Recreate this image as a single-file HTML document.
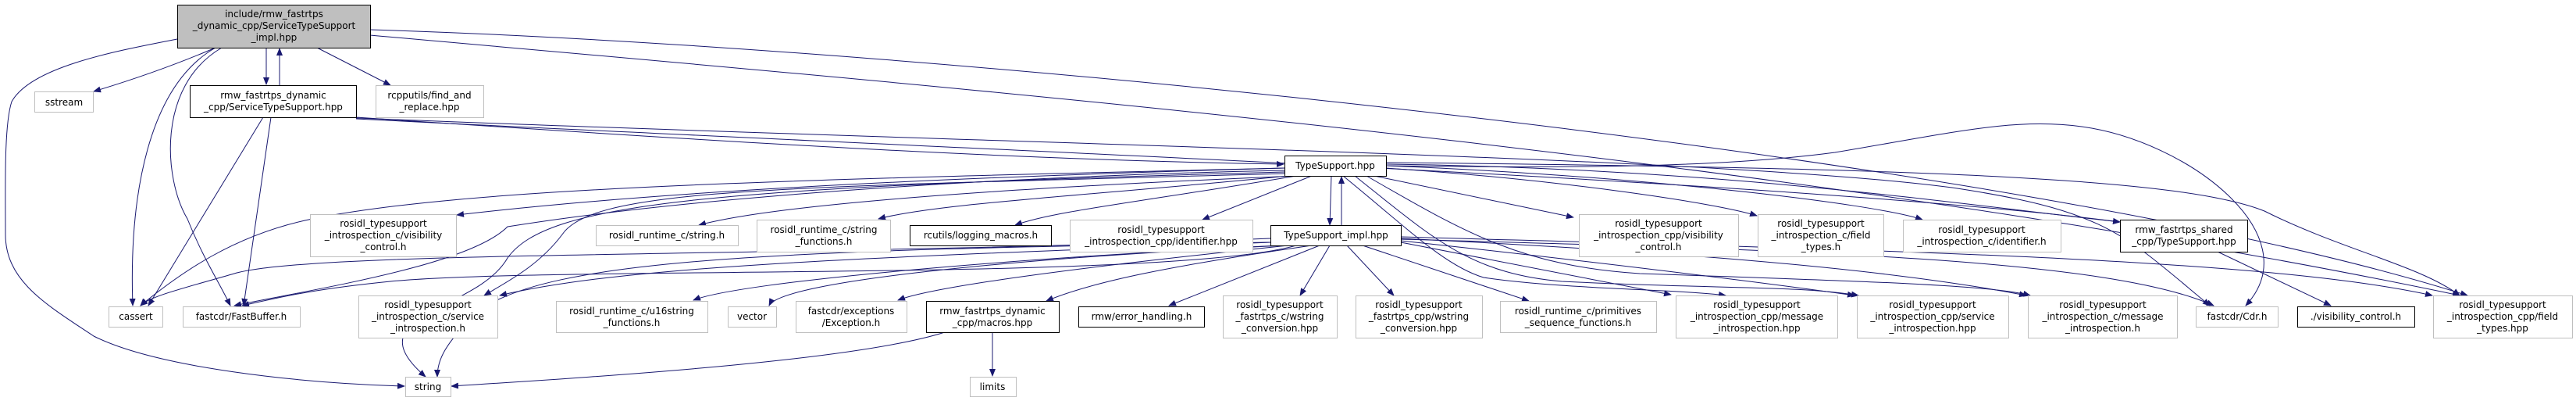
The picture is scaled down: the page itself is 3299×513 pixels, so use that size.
<!DOCTYPE html>
<html><head><meta charset="utf-8"><style>
html,body{margin:0;padding:0;background:#fff;width:3299px;height:513px;overflow:hidden}
svg text{font-family:"DejaVu Sans","Liberation Sans",sans-serif;font-size:12px;fill:#000}
</style></head><body>
<svg width="3299" height="513" viewBox="0 0 3299 513" xmlns="http://www.w3.org/2000/svg">
<defs><marker id="a" markerWidth="10" markerHeight="8" refX="9" refY="4" orient="auto" markerUnits="userSpaceOnUse"><path d="M0,0L10,4L0,8z" fill="#191970"/></marker></defs>
<g fill="none" stroke="#191970" stroke-width="1" marker-end="url(#a)">
<path d="M276,61 C220,85 160,105 120,117"/>
<path d="M276,61 C190,110 165,250 170,391"/>
<path d="M284,61 C200,110 210,230 240,280 C260,330 280,360 295,391"/>
<path d="M227,50 C150,65 40,85 15,130 C5,160 7,240 7,300 C7,360 60,390 120,430 C200,470 380,490 518,494"/>
<path d="M341,61 L341,108"/>
<path d="M358,109 L358,62"/>
<path d="M406,61 L500,109"/>
<path d="M474,38 C1200,60 2600,200 3160,378"/>
<path d="M474,45 C1200,110 2300,200 3150,378"/>
<path d="M337,150 L190,391"/>
<path d="M347,150 L312,391"/>
<path d="M456,150 C900,180 1300,205 1644,210"/>
<path d="M456,152 C1200,190 2300,230 2715,284"/>
<path d="M456,151 C1300,185 2200,200 2500,240 C2700,270 2720,300 2830,391"/>
<path d="M1775,212 C2000,215 2200,215 2350,195 C2500,170 2580,150 2666,162 C2800,180 2960,300 2876,391"/>
<path d="M1645,215 C1000,230 600,240 400,280 C300,300 230,350 180,391"/>
<path d="M1645,218 C1300,225 900,250 650,290 C600,340 400,370 300,391"/>
<path d="M1645,220 C900,240 700,260 650,330 C610,400 450,400 545,482"/>
<path d="M1645,215 C1100,230 800,250 585,275"/>
<path d="M1660,225 C1300,240 1000,260 895,288"/>
<path d="M1650,225 C1400,250 1200,260 1125,280"/>
<path d="M1660,225 C1450,260 1350,270 1300,288"/>
<path d="M1680,225 L1540,281"/>
<path d="M1705,225 L1703,288"/>
<path d="M1718,288 L1718,226"/>
<path d="M1760,225 L2015,278"/>
<path d="M1775,215 C2000,230 2200,260 2250,276"/>
<path d="M1775,212 C2100,225 2400,260 2462,281"/>
<path d="M1775,210 C2200,215 2500,260 2715,284"/>
<path d="M1775,208 C2500,215 2800,230 2900,270 C3000,320 3100,340 3150,378"/>
<path d="M1645,222 C1000,240 760,240 720,300 C690,340 650,360 620,378"/>
<path d="M1720,225 C1800,290 1850,340 1900,355 C2000,370 2150,370 2210,378"/>
<path d="M1735,225 C1830,300 1880,350 2000,360 C2200,370 2300,365 2380,378"/>
<path d="M1750,225 C1880,300 1950,340 2100,350 C2400,360 2550,365 2600,378"/>
<path d="M1627,305 C1000,330 400,320 300,350 C230,370 190,380 180,391"/>
<path d="M1660,314 C1500,360 700,340 500,360 C400,370 360,380 310,391"/>
<path d="M1627,310 C1000,320 700,330 610,400 C570,440 560,460 560,482"/>
<path d="M1210,425 C1100,460 800,480 578,494"/>
<path d="M1627,310 C1100,330 800,340 640,378"/>
<path d="M1640,314 C1300,330 950,360 888,384"/>
<path d="M1645,314 C1300,330 1000,360 985,391"/>
<path d="M1650,314 C1400,340 1200,365 1150,384"/>
<path d="M1680,314 C1500,340 1400,360 1340,385"/>
<path d="M1690,314 L1497,391"/>
<path d="M1703,314 L1665,378"/>
<path d="M1725,314 L1785,378"/>
<path d="M1745,314 L1958,385"/>
<path d="M1794,310 C1950,340 2050,360 2140,377"/>
<path d="M1794,308 C2000,330 2250,360 2375,378"/>
<path d="M1794,305 C2100,320 2400,340 2595,378"/>
<path d="M1794,306 C2300,320 2700,330 2835,391"/>
<path d="M1794,303 C2400,320 2900,330 3115,378"/>
<path d="M1271,425 L1271,481"/>
<path d="M2840,322 L2985,391"/>
</g>
<g stroke-width="1" fill="#fff">
<rect x="227.5" y="6.5" width="247" height="55" fill="#bfbfbf" stroke="#000"/>
<rect x="44.5" y="117.5" width="75" height="26" stroke="#bfbfbf"/>
<rect x="243.5" y="109.5" width="213" height="41" stroke="#000"/>
<rect x="481.5" y="109.5" width="138" height="41" stroke="#bfbfbf"/>
<rect x="1645.5" y="199.5" width="130" height="26" stroke="#000"/>
<rect x="397.5" y="274.5" width="187" height="54" stroke="#bfbfbf"/>
<rect x="763.5" y="288.5" width="182" height="26" stroke="#bfbfbf"/>
<rect x="969.5" y="281.5" width="171" height="41" stroke="#bfbfbf"/>
<rect x="1165.5" y="288.5" width="181" height="26" stroke="#000"/>
<rect x="1370.5" y="281.5" width="234" height="41" stroke="#bfbfbf"/>
<rect x="1627.5" y="288.5" width="167" height="26" stroke="#000"/>
<rect x="2022.5" y="274.5" width="204" height="54" stroke="#bfbfbf"/>
<rect x="2251.5" y="274.5" width="161" height="54" stroke="#bfbfbf"/>
<rect x="2437.5" y="281.5" width="202" height="41" stroke="#bfbfbf"/>
<rect x="2715.5" y="281.5" width="163" height="41" stroke="#000"/>
<rect x="139.5" y="392.5" width="69" height="26" stroke="#bfbfbf"/>
<rect x="234.5" y="392.5" width="150" height="26" stroke="#bfbfbf"/>
<rect x="459.5" y="378.5" width="178" height="54" stroke="#bfbfbf"/>
<rect x="712.5" y="385.5" width="194" height="40" stroke="#bfbfbf"/>
<rect x="932.5" y="392.5" width="62" height="26" stroke="#bfbfbf"/>
<rect x="1019.5" y="385.5" width="142" height="40" stroke="#bfbfbf"/>
<rect x="1186.5" y="385.5" width="170" height="40" stroke="#000"/>
<rect x="1381.5" y="392.5" width="161" height="26" stroke="#000"/>
<rect x="1566.5" y="378.5" width="146" height="54" stroke="#bfbfbf"/>
<rect x="1736.5" y="378.5" width="162" height="54" stroke="#bfbfbf"/>
<rect x="1921.5" y="385.5" width="200" height="40" stroke="#bfbfbf"/>
<rect x="2146.5" y="378.5" width="207" height="54" stroke="#bfbfbf"/>
<rect x="2378.5" y="378.5" width="194" height="54" stroke="#bfbfbf"/>
<rect x="2597.5" y="378.5" width="191" height="54" stroke="#bfbfbf"/>
<rect x="2812.5" y="392.5" width="105" height="26" stroke="#bfbfbf"/>
<rect x="2942.5" y="392.5" width="150" height="26" stroke="#000"/>
<rect x="3116.5" y="378.5" width="178" height="54" stroke="#bfbfbf"/>
<rect x="519.5" y="482.5" width="58" height="25" stroke="#bfbfbf"/>
<rect x="1242.5" y="482.5" width="59" height="25" stroke="#bfbfbf"/>
</g>
<g text-anchor="middle">
<text x="351" y="22">include/rmw_fastrtps</text><text x="351" y="37">_dynamic_cpp/ServiceTypeSupport</text><text x="351" y="52">_impl.hpp</text>
<text x="82" y="135">sstream</text>
<text x="350" y="126">rmw_fastrtps_dynamic</text><text x="350" y="141">_cpp/ServiceTypeSupport.hpp</text>
<text x="550" y="126">rcpputils/find_and</text><text x="550" y="141">_replace.hpp</text>
<text x="1710" y="216">TypeSupport.hpp</text>
<text x="491" y="290">rosidl_typesupport</text><text x="491" y="305">_introspection_c/visibility</text><text x="491" y="320">_control.h</text>
<text x="854" y="305">rosidl_runtime_c/string.h</text>
<text x="1055" y="298">rosidl_runtime_c/string</text><text x="1055" y="313">_functions.h</text>
<text x="1256" y="305">rcutils/logging_macros.h</text>
<text x="1487" y="298">rosidl_typesupport</text><text x="1487" y="313">_introspection_cpp/identifier.hpp</text>
<text x="1711" y="305">TypeSupport_impl.hpp</text>
<text x="2124" y="290">rosidl_typesupport</text><text x="2124" y="305">_introspection_cpp/visibility</text><text x="2124" y="320">_control.h</text>
<text x="2332" y="290">rosidl_typesupport</text><text x="2332" y="305">_introspection_c/field</text><text x="2332" y="320">_types.h</text>
<text x="2538" y="298">rosidl_typesupport</text><text x="2538" y="313">_introspection_c/identifier.h</text>
<text x="2797" y="298">rmw_fastrtps_shared</text><text x="2797" y="313">_cpp/TypeSupport.hpp</text>
<text x="174" y="409">cassert</text>
<text x="309" y="409">fastcdr/FastBuffer.h</text>
<text x="548" y="394">rosidl_typesupport</text><text x="548" y="409">_introspection_c/service</text><text x="548" y="424">_introspection.h</text>
<text x="809" y="402">rosidl_runtime_c/u16string</text><text x="809" y="417">_functions.h</text>
<text x="963" y="409">vector</text>
<text x="1090" y="402">fastcdr/exceptions</text><text x="1090" y="417">/Exception.h</text>
<text x="1271" y="402">rmw_fastrtps_dynamic</text><text x="1271" y="417">_cpp/macros.hpp</text>
<text x="1462" y="409">rmw/error_handling.h</text>
<text x="1639" y="394">rosidl_typesupport</text><text x="1639" y="409">_fastrtps_c/wstring</text><text x="1639" y="424">_conversion.hpp</text>
<text x="1817" y="394">rosidl_typesupport</text><text x="1817" y="409">_fastrtps_cpp/wstring</text><text x="1817" y="424">_conversion.hpp</text>
<text x="2021" y="402">rosidl_runtime_c/primitives</text><text x="2021" y="417">_sequence_functions.h</text>
<text x="2250" y="394">rosidl_typesupport</text><text x="2250" y="409">_introspection_cpp/message</text><text x="2250" y="424">_introspection.hpp</text>
<text x="2475" y="394">rosidl_typesupport</text><text x="2475" y="409">_introspection_cpp/service</text><text x="2475" y="424">_introspection.hpp</text>
<text x="2693" y="394">rosidl_typesupport</text><text x="2693" y="409">_introspection_c/message</text><text x="2693" y="424">_introspection.h</text>
<text x="2865" y="409">fastcdr/Cdr.h</text>
<text x="3017" y="409">./visibility_control.h</text>
<text x="3205" y="394">rosidl_typesupport</text><text x="3205" y="409">_introspection_cpp/field</text><text x="3205" y="424">_types.hpp</text>
<text x="548" y="499">string</text>
<text x="1271" y="499">limits</text>
</g>
</svg>
</body></html>
